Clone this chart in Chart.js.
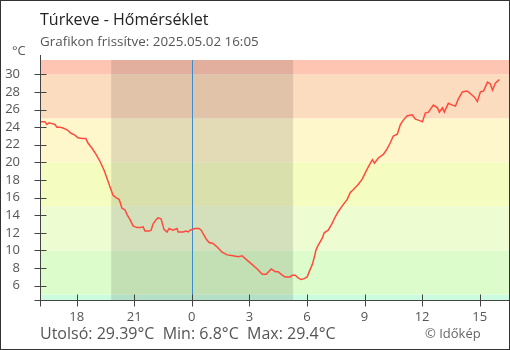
<!DOCTYPE html>
<html>
<head>
<meta charset="utf-8">
<script src="https://cdn.jsdelivr.net/npm/chart.js@4.4.1/dist/chart.umd.min.js"></script>
<style>
body{margin:0;background:#fff}
#wrap{width:510px;height:350px;position:relative}
</style>
</head>
<body>
<div id="wrap"><canvas id="chart" width="510" height="350"></canvas></div>
<script>
// hours relative to midnight of 2025.05.02 (negative = previous evening)
const hours = [-7.91,-7.65,-7.55,-7.44,-7.29,-7.13,-7.03,-6.87,-6.71,-6.50,-6.29,-6.09,-5.93,-5.72,-5.52,-5.41,-5.20,-4.99,-4.78,-4.57,-4.42,-4.26,-4.11,-3.95,-3.79,-3.74,-3.64,-3.48,-3.38,-3.22,-3.06,-2.85,-2.64,-2.54,-2.44,-2.23,-2.12,-2.02,-1.86,-1.76,-1.60,-1.45,-1.29,-1.18,-0.98,-0.77,-0.71,-0.45,-0.30,-0.19,-0.09,0.17,0.38,0.49,0.59,0.75,0.90,1.11,1.32,1.58,1.84,2.15,2.42,2.62,2.88,3.15,3.41,3.67,3.88,4.14,4.35,4.50,4.71,4.87,5.13,5.23,5.39,5.54,5.70,5.86,6.01,6.12,6.28,6.38,6.48,6.59,6.80,6.90,7.11,7.32,7.47,7.63,7.89,8.10,8.26,8.41,8.67,8.88,9.04,9.20,9.41,9.52,9.72,9.98,10.14,10.34,10.50,10.71,10.87,11.02,11.23,11.49,11.65,11.81,12.02,12.17,12.33,12.59,12.80,12.90,13.06,13.16,13.37,13.58,13.74,13.89,14.10,14.31,14.41,14.57,14.73,14.88,15.04,15.20,15.41,15.56,15.67,15.82,16.03]
const temps = [24.6,24.6,24.3,24.5,24.4,24.3,24.0,24.0,23.9,23.7,23.3,23.1,22.8,22.7,22.7,22.2,21.6,20.9,20.1,19.1,18.2,17.2,16.3,16.0,15.8,15.5,14.8,14.6,14.1,13.5,12.8,12.6,12.6,12.7,12.2,12.2,12.3,13.0,13.5,13.7,13.6,12.4,12.1,12.5,12.3,12.5,12.1,12.1,12.2,12.1,12.3,12.5,12.5,12.3,11.9,11.3,10.9,10.8,10.4,9.8,9.5,9.4,9.3,9.4,8.9,8.4,7.9,7.3,7.3,7.9,7.6,7.6,7.2,7.0,7.0,7.2,7.2,6.9,6.7,6.8,7.0,7.6,8.4,9.2,10.1,10.6,11.4,12.0,12.3,13.1,13.8,14.4,15.2,15.8,16.6,16.9,17.5,18.1,18.8,19.5,20.3,19.9,20.5,20.9,21.4,22.2,23.0,23.2,24.3,24.8,25.3,25.4,24.9,24.8,24.6,25.6,25.7,26.5,26.2,25.7,26.2,25.7,26.7,26.5,26.4,27.2,28.0,28.1,28.0,27.7,27.4,26.9,28.0,28.1,29.1,28.9,28.2,29.0,29.4]

const xTicks = [-6,-3,0,3,6,9,12,15]
const yTicks = [6,8,10,12,14,16,18,20,22,24,26,28,30]

// temperature bands (lower, upper, colour)
const bandLimits = [-50,5,10,15,20,25,30,60]
const bandColors = ["#cbfce0","#dcfccb","#eefcd2","#f4fcc0","#fef7cc","#fcdcbe","#fec5b2"]

const nightStart = -4.20
const nightEnd = 5.28

const title = "Túrkeve - Hőmérséklet"
const subtitle = "Grafikon frissítve: 2025.05.02 16:05"
const footer = "Utolsó: 29.39°C  Min: 6.8°C  Max: 29.4°C"
const credit = "© Időkép"

const font = "'Open Sans', 'Noto Sans', sans-serif"

const decor = {
  id: "decor",
  beforeDatasetsDraw(c){
    const ctx=c.ctx, a=c.chartArea, x=c.scales.x, y=c.scales.y
    ctx.save()
    for(let i=0;i<bandColors.length;i++){
      let t=Math.max(a.top,y.getPixelForValue(bandLimits[i+1]))
      let b=Math.min(a.bottom,y.getPixelForValue(bandLimits[i]))
      if(b>t){ctx.fillStyle=bandColors[i];ctx.fillRect(a.left,t,a.right-a.left,b-t)}
    }
    let n1=x.getPixelForValue(nightStart), n2=x.getPixelForValue(nightEnd)
    ctx.fillStyle="rgba(0,0,0,0.11)"
    ctx.fillRect(n1,a.top,n2-n1,a.bottom-a.top)
    let m=Math.round(x.getPixelForValue(0))+0.5
    ctx.strokeStyle="#3d8ccc"
    ctx.lineWidth=1
    ctx.beginPath();ctx.moveTo(m,a.top);ctx.lineTo(m,a.bottom);ctx.stroke()
    ctx.restore()
  },
  afterDraw(c){
    const ctx=c.ctx, a=c.chartArea, x=c.scales.x, y=c.scales.y
    ctx.save()
    ctx.strokeStyle="#444"
    ctx.lineWidth=1
    let L=Math.round(a.left)+0.5, B=Math.round(a.bottom)+0.5
    ctx.beginPath()
    ctx.moveTo(L,a.top-5);ctx.lineTo(L,B+6)
    ctx.moveTo(L-6,B);ctx.lineTo(a.right,B)
    yTicks.forEach(v=>{let p=Math.round(y.getPixelForValue(v))+0.5;ctx.moveTo(L-6,p);ctx.lineTo(L+6,p)})
    xTicks.forEach(v=>{let p=Math.round(x.getPixelForValue(v))+0.5;ctx.moveTo(p,B-6);ctx.lineTo(p,B+6)})
    ctx.stroke()
    // frame
    ctx.strokeStyle="#333"
    ctx.strokeRect(0.5,0.5,c.width-1,c.height-1)
    ctx.textBaseline="alphabetic"
    ctx.fillStyle="#222"
    ctx.font="16px "+font
    ctx.fillText(title,40,25)
    ctx.fillStyle="#555"
    ctx.font="13.4px "+font
    ctx.fillText(subtitle,40,46)
    ctx.font="13px "+font
    ctx.fillText("°C",12,55)
    ctx.font="16px "+font
    ctx.fillText(footer,40,339)
    ctx.fillStyle="#666"
    ctx.font="13px "+font
    ctx.fillText(credit,425,338)
    ctx.restore()
  }
}

new Chart(document.getElementById("chart"),{
  type:"line",
  data:{
    datasets:[{
      data:hours.map((h,i)=>({x:h,y:temps[i]})),
      borderColor:"#ff4a3d",
      borderWidth:1.5,
      pointRadius:0,
      tension:0,
      fill:false
    }]
  },
  options:{
    responsive:false,
    animation:false,
    layout:{padding:{left:0,right:1,top:60,bottom:0}},
    plugins:{legend:{display:false},tooltip:{enabled:false}},
    scales:{
      x:{
        type:"linear",
        min:-7.91,max:16.53,
        grid:{display:false,drawTicks:false},
        border:{display:false},
        afterBuildTicks(s){s.ticks=xTicks.map(v=>({value:v}))},
        afterFit(s){s.height=50},
        ticks:{color:"#555",font:{family:font,size:13},padding:9,maxRotation:0,autoSkip:false,
          callback:v=>String((v+24)%24)}
      },
      y:{
        min:4.38,max:31.62,
        grid:{display:false,drawTicks:false},
        border:{display:false},
        afterBuildTicks(s){s.ticks=yTicks.map(v=>({value:v}))},
        afterFit(s){s.width=40},
        ticks:{color:"#555",font:{family:font,size:13},padding:20,autoSkip:false}
      }
    }
  },
  plugins:[decor]
})
</script>
</body>
</html>
